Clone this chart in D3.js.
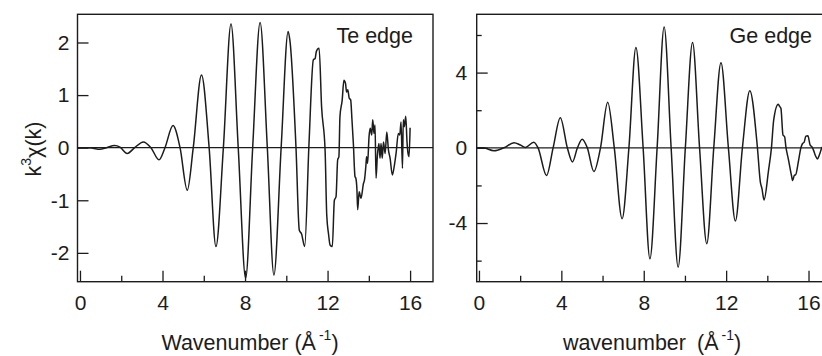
<!DOCTYPE html>
<html>
<head>
<meta charset="utf-8">
<script src="https://cdn.jsdelivr.net/npm/d3@7"></script>
<style>
  body { margin: 0; background: #fff; }
  svg { display: block; }
</style>
</head>
<body>
<div id="chart"></div>
<script>
'use strict';

// Te edge, k (1/A) and k^3 chi(k)
const teK = [-0.1, 0.38, 0.63, 0.96, 1.29, 1.67, 1.94, 2.29, 2.65, 3.07, 3.44, 3.83, 4.12, 4.51, 4.85,
  5.20, 5.49, 5.89, 6.26, 6.59, 6.95, 7.32, 7.67, 8.03, 8.37, 8.73, 9.08, 9.40, 9.75, 10.09, 10.18,
  10.47, 10.63, 10.74, 10.89, 11.10, 11.31, 11.40, 11.45, 11.51, 11.59, 11.71, 11.88, 11.96, 12.05,
  12.12, 12.23, 12.33, 12.41, 12.49, 12.55, 12.60, 12.71, 12.79, 12.87, 12.92, 12.98, 13.05, 13.12,
  13.18, 13.25, 13.33, 13.37, 13.42, 13.46, 13.53, 13.62, 13.74, 13.79, 13.86, 13.89, 13.94, 14.01,
  14.07, 14.14, 14.19, 14.25, 14.30, 14.35, 14.41, 14.49, 14.54, 14.59, 14.65, 14.71, 14.79, 14.87,
  14.95, 15.03, 15.14, 15.24, 15.32, 15.43, 15.50, 15.56, 15.63, 15.67, 15.72, 15.79, 15.85, 15.90,
  15.95, 16.0];
const teChi = [0, 0, -0.01, -0.03, 0, 0.04, 0.01, -0.11, 0, 0.11, 0, -0.23, 0, 0.42, 0,
  -0.81, 0, 1.38, 0, -1.88, 0, 2.35, 0, -2.48, 0, 2.38, 0, -2.42, 0, 2.21, 2.02,
  0, -1.57, -1.64, -1.88, 0.08, 1.67, 1.70, 1.82, 1.87, 1.89, 0.78, -0.05, -1.28, -1.65,
  -1.85, -1.88, -1.0, -0.93, -0.23, -0.17, 0.59, 0.91, 1.28, 1.22, 1.06, 1.10, 0.94, 0.91,
  0.55, 0.08, -0.55, -0.58, -0.77, -1.18, -0.84, -0.96, -0.68, -0.61, -0.33, -0.17, -0.30, 0.21,
  0.37, 0.24, 0.53, 0.27, 0.43, -0.58, -0.17, 0.08, -0.20, 0.08, -0.20, 0.11, -0.11, 0.30,
  -0.04, -0.20, -0.52, -0.33, -0.11, 0.27, 0.24, 0.49, -0.39, 0.53, 0.40, 0.60, 0.11, -0.11,
  -0.17, 0.38];

// Ge edge
const geK = [-0.12, 0.19, 0.73, 1.21, 1.70, 2.01, 2.26, 2.66, 2.87, 3.28, 3.60, 3.95, 4.29, 4.54,
  4.78, 5.01, 5.26, 5.58, 5.90, 6.25, 6.57, 6.95, 7.28, 7.62, 7.97, 8.30, 8.65, 8.99, 9.33, 9.67,
  10.02, 10.37, 10.71, 11.06, 11.40, 11.75, 12.11, 12.45, 12.79, 13.15, 13.52, 13.66, 13.74, 13.84,
  14.06, 14.20, 14.31, 14.53, 14.60, 14.66, 14.76, 14.84, 14.90, 15.03, 15.17, 15.23, 15.31, 15.37,
  15.52, 15.63, 15.71, 15.79, 15.87, 15.97, 16.08, 16.17, 16.25, 16.35, 16.43, 16.52, 16.65];
const geChi = [0, 0, -0.16, 0, 0.27, 0.15, 0.02, 0.30, 0, -1.47, 0, 1.60, 0, -0.75,
  0, 0.46, 0, -1.26, 0, 2.42, 0, -3.77, 0, 5.33, 0, -5.90, 0, 6.42, 0, -6.35,
  0, 5.60, 0, -5.10, 0, 4.53, 0, -3.89, 0, 3.04, 0, -1.81, -2.17, -2.77,
  -1.19, 0, 1.48, 2.31, 2.20, 2.10, 0.68, 0.59, 0.06, -0.65, -1.46, -1.74, -1.46, -1.44,
  -0.65, 0, 0.23, 0.30, 0.62, 0.64, 0.14, 0.05, -0.15, -0.45, -0.60, -0.40, 0.05];

const kTicks = [0, 4, 8, 12, 16];
const kMinorTicks = [2, 6, 10, 14];
const teTicks = [-2, -1, 0, 1, 2];
const geTicks = [-4, 0, 4];
const geMinorTicks = [-6, -2, 2, 6];

const ink = '#1c1c1c';
const font = 'Liberation Sans, Arial, Helvetica, sans-serif';
const tickFont = 21;
const titleFont = 21.5;

const svg = d3.select('#chart')
  .append('svg')
    .attr('width', 822)
    .attr('height', 356);

class ExafsPanel {
  constructor (opts) {
    this.o = opts;
    this.x = d3.scaleLinear().domain(opts.kDomain).range([opts.left, opts.right]);
    this.y = d3.scaleLinear().domain(opts.yDomain).range([opts.bottom, opts.top]);
    this.g = svg.append('g');
    this.draw();
  }

  draw() {
    const o = this.o;
    const clipId = 'clip-' + o.name;
    svg.append('clipPath').attr('id', clipId)
      .append('rect')
        .attr('x', o.left).attr('y', o.top)
        .attr('width', o.right - o.left).attr('height', o.bottom - o.top);

    // zero line
    this.g.append('line')
      .attr('x1', o.left).attr('x2', o.right)
      .attr('y1', this.y(0)).attr('y2', this.y(0))
      .attr('stroke', ink).attr('stroke-width', 1.2);

    const pts = o.k.map((k, i) => [k, o.chi[i]]);
    const line = d3.line()
      .x(d => this.x(d[0]))
      .y(d => this.y(d[1]))
      .curve(d3.curveMonotoneX);
    this.g.append('path')
      .datum(pts)
      .attr('clip-path', `url(#${clipId})`)
      .attr('fill', 'none')
      .attr('stroke', ink)
      .attr('stroke-width', 1.5)
      .attr('stroke-linejoin', 'round')
      .attr('d', line);

    // ticks point inward, labels outside
    const fmt = d => String(d);
    this.g.append('g')
      .attr('transform', `translate(0, ${o.bottom})`)
      .call(d3.axisBottom(this.x).tickValues(kTicks).tickFormat(fmt)
        .tickSizeInner(-11).tickSizeOuter(0).tickPadding(13));
    this.g.append('g')
      .attr('transform', `translate(0, ${o.bottom})`)
      .call(d3.axisBottom(this.x).tickValues(kMinorTicks).tickSizeInner(-6).tickSizeOuter(0).tickFormat(''));
    this.g.append('g')
      .attr('transform', `translate(${o.left}, 0)`)
      .call(d3.axisLeft(this.y).tickValues(o.yTicks).tickFormat(fmt)
        .tickSizeInner(-11).tickSizeOuter(0).tickPadding(o.yPad));
    if (o.yMinor) {
      this.g.append('g')
        .attr('transform', `translate(${o.left}, 0)`)
        .call(d3.axisLeft(this.y).tickValues(o.yMinor).tickSizeInner(-5).tickSizeOuter(0).tickFormat(''));
    }
    this.g.selectAll('.domain').remove();
    this.g.selectAll('.tick line').attr('stroke', ink).attr('stroke-width', 1.3);
    this.g.selectAll('.tick text')
      .attr('fill', ink)
      .attr('font-family', font)
      .attr('font-size', tickFont);

    this.g.append('rect')
      .attr('x', o.left).attr('y', o.top)
      .attr('width', o.right - o.left).attr('height', o.bottom - o.top)
      .attr('fill', 'none')
      .attr('stroke', ink)
      .attr('stroke-width', 1.4);

    this.g.append('text')
      .attr('x', o.labelX).attr('y', 43)
      .attr('text-anchor', 'end')
      .attr('font-family', font).attr('font-size', titleFont)
      .attr('fill', ink)
      .text(o.label);
  }
}

new ExafsPanel({
  name: 'te', k: teK, chi: teChi,
  left: 77.5, right: 433, top: 14.3, bottom: 281.7,
  kDomain: [-0.12, 17.11], yDomain: [-2.548, 2.536],
  yTicks: teTicks, yPad: 8, label: 'Te edge', labelX: 413
});

new ExafsPanel({
  name: 'ge', k: geK, chi: geChi,
  left: 476.7, right: 832, top: 14.3, bottom: 281.7,
  kDomain: [-0.11, 17.14], yDomain: [-7.12, 7.10],
  yTicks: geTicks, yMinor: geMinorTicks, yPad: 9.5, label: 'Ge edge', labelX: 812
});

// axis titles
const xTitleLeft = svg.append('text')
  .attr('x', 250).attr('y', 350)
  .attr('text-anchor', 'middle')
  .attr('font-family', font).attr('font-size', titleFont).attr('fill', ink);
xTitleLeft.append('tspan').text('Wavenumber (Å');
xTitleLeft.append('tspan').attr('dx', 3).attr('dy', -10).attr('font-size', 14).text('-1');
xTitleLeft.append('tspan').attr('dy', 10).text(')');

const xTitleRight = svg.append('text')
  .attr('x', 652).attr('y', 350)
  .attr('text-anchor', 'middle')
  .attr('font-family', font).attr('font-size', titleFont).attr('fill', ink);
xTitleRight.append('tspan').text('wavenumber');
xTitleRight.append('tspan').attr('dx', 11).text('(Å');
xTitleRight.append('tspan').attr('dx', 3).attr('dy', -10).attr('font-size', 14).text('-1');
xTitleRight.append('tspan').attr('dy', 10).text(')');

const yTitle = svg.append('text')
  .attr('transform', 'translate(41, 149) rotate(-90)')
  .attr('text-anchor', 'middle')
  .attr('font-family', font).attr('font-size', titleFont).attr('fill', ink);
yTitle.append('tspan').text('k');
yTitle.append('tspan').attr('dy', -10).attr('font-size', 14).text('3');
yTitle.append('tspan').attr('dy', 10).text('χ(k)');
</script>
</body>
</html>
